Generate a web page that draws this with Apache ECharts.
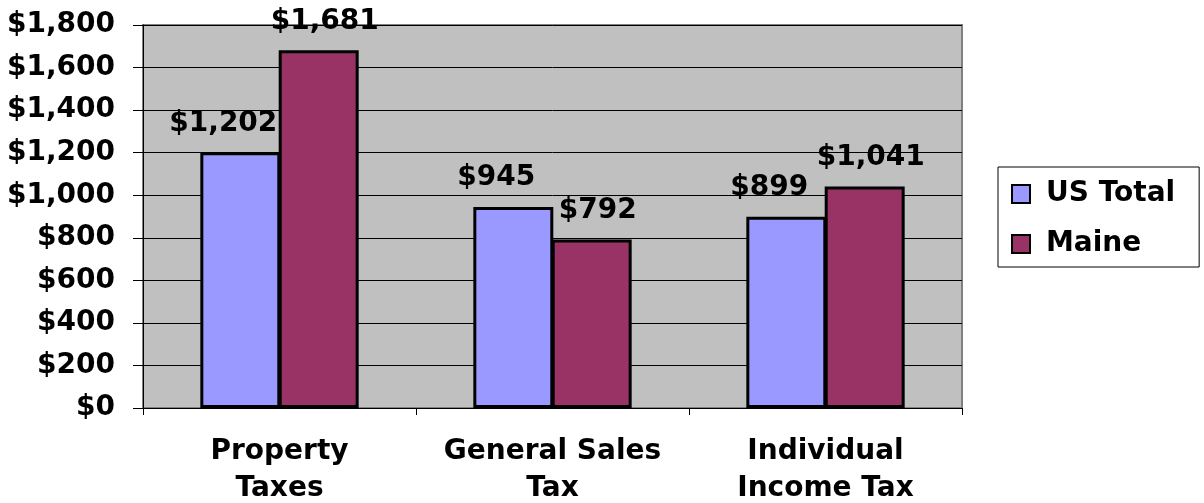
<!DOCTYPE html>
<html>
<head>
<meta charset="utf-8">
<style>
  html, body { margin: 0; padding: 0; background: #ffffff; }
  #chart { width: 1204px; height: 503px; }
</style>
<script src="https://cdn.jsdelivr.net/npm/echarts@6/dist/echarts.min.js"></script>
</head>
<body>
<div id="chart"></div>
<script>
// Per-capita tax collections, US average vs. Maine
const categories = ['Property\nTaxes', 'General Sales\nTax', 'Individual\nIncome Tax'];
const usTotal = [1202, 945, 899];
const maine = [1681, 792, 1041];
const seriesNames = ['US Total', 'Maine'];
const yMin = 0;
const yMax = 1800;
const yStep = 200;

const FONT = 'DejaVu Sans';
const dollars = v => '$' + Number(v).toLocaleString('en-US');

const chart = echarts.init(document.getElementById('chart'), null, { renderer: 'canvas' });

const barLabel = (dx) => ({
  show: true,
  position: 'top',
  distance: 15,
  offset: [dx, 0],
  formatter: p => dollars(p.value),
  color: '#000',
  fontFamily: FONT,
  fontWeight: 'bold',
  fontSize: 28
});

chart.setOption({
  animation: false,
  backgroundColor: '#ffffff',
  grid: {
    left: 143,
    right: 242,
    top: 25,
    bottom: 95,
    containLabel: false,
    outerBoundsMode: 'none',
    show: true,
    backgroundColor: '#C0C0C0',
    borderColor: '#808080',
    borderWidth: 2
  },
  legend: {
    orient: 'vertical',
    left: 998,
    top: 167,
    padding: [13, 24, 9, 13],
    itemGap: 22,
    itemWidth: 18,
    itemHeight: 18,
    backgroundColor: '#ffffff',
    borderColor: '#000',
    borderWidth: 1,
    borderRadius: 0,
    icon: 'rect',
    itemStyle: { borderColor: '#000', borderWidth: 2 },
    textStyle: {
      color: '#000',
      fontFamily: FONT,
      fontWeight: 'bold',
      fontSize: 28,
      padding: [0, 0, 0, 11]
    },
    data: seriesNames
  },
  xAxis: {
    type: 'category',
    data: categories,
    axisLine: { show: true, lineStyle: { color: '#000', width: 1 } },
    axisTick: { show: true, length: 7, lineStyle: { color: '#000' } },
    axisLabel: {
      color: '#000',
      fontFamily: FONT,
      fontWeight: 'bold',
      fontSize: 28,
      lineHeight: 37,
      margin: 25,
      interval: 0
    },
    splitLine: { show: false }
  },
  yAxis: {
    type: 'value',
    min: yMin,
    max: yMax,
    interval: yStep,
    axisLine: { show: true, lineStyle: { color: '#000', width: 1 } },
    axisTick: { show: true, length: 10, lineStyle: { color: '#000' } },
    axisLabel: {
      color: '#000',
      fontFamily: FONT,
      fontWeight: 'bold',
      fontSize: 28,
      margin: 28,
      formatter: v => dollars(v)
    },
    splitLine: { show: true, lineStyle: { color: '#000', width: 1 } }
  },
  series: [
    {
      name: seriesNames[0],
      type: 'bar',
      data: usTotal,
      barGap: '-2%',
      barCategoryGap: '42%',
      itemStyle: { color: '#9999FF', borderColor: '#000', borderWidth: 3 },
      label: barLabel(-17)
    },
    {
      name: seriesNames[1],
      type: 'bar',
      data: maine,
      barGap: '-2%',
      barCategoryGap: '42%',
      itemStyle: { color: '#993366', borderColor: '#000', borderWidth: 3 },
      label: barLabel(6)
    }
  ]
});
</script>
</body>
</html>
